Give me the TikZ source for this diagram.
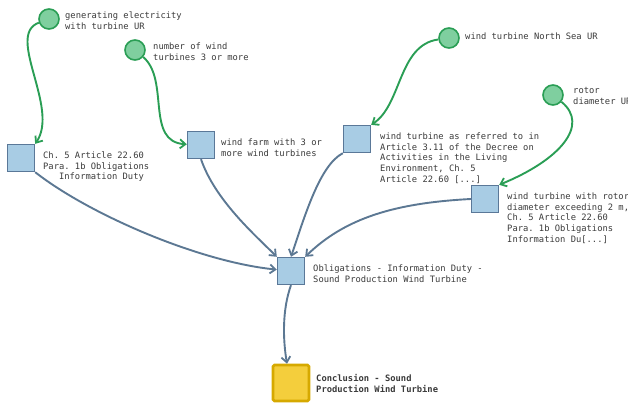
\documentclass[tikz,border=0pt]{standalone}
\usepackage{fontspec}
\setmonofont{DejaVu Sans Mono}
\usetikzlibrary{arrows.meta}

\definecolor{leafFill}{HTML}{7FCF9F}
\definecolor{leafLine}{HTML}{2A9E55}
\definecolor{boxFill}{HTML}{A8CCE4}
\definecolor{boxLine}{HTML}{5A7898}
\definecolor{edgeBlue}{HTML}{5C7893}
\definecolor{goalFill}{HTML}{F4CE3C}
\definecolor{goalLine}{HTML}{D6A900}
\definecolor{labelText}{HTML}{3A3A3A}

\tikzset{
  leaf/.style={circle, draw=leafLine, fill=leafFill, line width=1.6pt,
    minimum size=20pt, inner sep=0pt},
  factbox/.style={rectangle, draw=boxLine, fill=boxFill, line width=1.4pt,
    minimum size=27pt, inner sep=0pt},
  goalbox/.style={rectangle, rounded corners=1.5pt, draw=goalLine, fill=goalFill,
    line width=2.6pt, minimum size=36pt, inner sep=0pt},
  lbl/.style={anchor=north west, inner sep=0pt, align=left, text=labelText,
    font=\ttfamily\fontsize{8.8}{10.75}\selectfont},
  greenedge/.style={draw=leafLine, line width=1.9pt,
    -{Straight Barb[length=5.5pt,width=9pt,line width=1.8pt]}},
  blueedge/.style={draw=edgeBlue, line width=1.9pt,
    -{Straight Barb[length=5.5pt,width=9pt,line width=1.8pt]}},
}

\begin{document}
\begin{tikzpicture}[x=1pt, y=-1pt]
\useasboundingbox (0,0) rectangle (628,404);

% input conditions
\node[leaf] (c1) at (49,19) {};
\node[leaf] (c2) at (135,50) {};
\node[leaf] (c3) at (449,38) {};
\node[leaf] (c4) at (553,95) {};

% intermediate facts
\node[factbox] (a) at (21,158) {};
\node[factbox] (b) at (201,145) {};
\node[factbox] (c) at (357,139) {};
\node[factbox] (d) at (485,199) {};
\node[factbox] (e) at (291,271) {};

% conclusion
\node[goalbox] (f) at (291,383) {};

% labels
\node[lbl] (lc1) at (65,11.5) {generating electricity\\with turbine UR};
\node[lbl] (lc2) at (153,42.5) {number of wind\\turbines 3 or more};
\node[lbl] (lc3) at (465,32.5) {wind turbine North Sea UR};
\node[lbl] (lc4) at (573,87.5) {rotor\\diameter UR};
\node[lbl] (la) at (43,151.5) {Ch. 5 Article 22.60\\Para. 1b Obligations\\\hspace*{1.806em}Information Duty};
\node[lbl] (lb) at (221,138.5) {wind farm with 3 or\\more wind turbines};
\node[lbl] (lcc) at (380,132.5) {wind turbine as referred to in\\Article 3.11 of the Decree on\\Activities in the Living\\Environment, Ch. 5\\Article 22.60 [...]};
\node[lbl] (ld) at (507,192.5) {wind turbine with rotor\\diameter exceeding 2 m,\\Ch. 5 Article 22.60\\Para. 1b Obligations\\Information Du[...]};
\node[lbl] (le) at (313,264.5) {Obligations - Information Duty -\\Sound Production Wind Turbine};
\node[lbl, font=\ttfamily\bfseries\fontsize{8.8}{10.75}\selectfont] (lf) at (316,374.5) {Conclusion - Sound\\Production Wind Turbine};

% condition edges
\draw[greenedge] (c1) .. controls (5,35) and (60,108) .. (a.north east);
\draw[greenedge] (c2) .. controls (170,80) and (145,142) .. (b);
\draw[greenedge] (c3) .. controls (398,45) and (402,105) .. (c.north east);
\draw[greenedge] (c4) .. controls (590,125) and (560,160) .. (d.north east);

% derivation edges
\draw[blueedge] (a.south east) .. controls (90,215) and (200,262) .. (e);
\draw[blueedge] (b.south) .. controls (215,200) and (255,235) .. (e.north west);
\draw[blueedge] (c.south west) .. controls (320,165) and (305,215) .. (e.north);
\draw[blueedge] (d.west) .. controls (395,203) and (345,218) .. (e.north east);
\draw[blueedge] (e.south) .. controls (282,310) and (283,340) .. ([xshift=-4pt]f.north);
\end{tikzpicture}
\end{document}
